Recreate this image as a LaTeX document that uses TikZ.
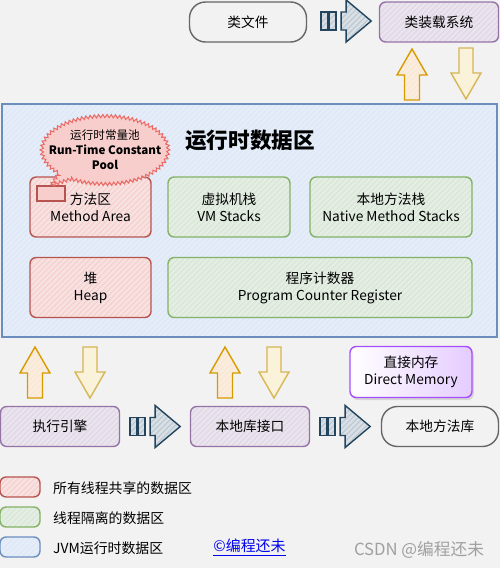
\documentclass[tikz,border=0pt]{standalone}
\usepackage{fontspec}
\setmainfont{Noto Sans CJK SC}
\usepackage{tikz}
\usetikzlibrary{shapes.callouts}
\usetikzlibrary{patterns.meta}
\usetikzlibrary{decorations.pathmorphing}
\usetikzlibrary{shadows}

\definecolor{bggray}{HTML}{F2F2F2}
\definecolor{grayline}{HTML}{666666}
\definecolor{purpleline}{HTML}{9673A6}
\definecolor{purplefill}{HTML}{E1D5E7}
\definecolor{redline}{HTML}{B85450}
\definecolor{redfill}{HTML}{F8CECC}
\definecolor{greenline}{HTML}{82B366}
\definecolor{greenfill}{HTML}{D5E8D4}
\definecolor{blueline}{HTML}{6C8EBF}
\definecolor{bluefill}{HTML}{DAE8FC}
\definecolor{orangeline}{HTML}{D79B00}
\definecolor{orangefill}{HTML}{FFE6CC}
\definecolor{yellowline}{HTML}{D6B656}
\definecolor{yellowfill}{HTML}{FFF2CC}
\definecolor{navyline}{HTML}{23445D}
\definecolor{navyfill}{HTML}{BAC8D3}
\definecolor{violetline}{HTML}{A64DFF}
\definecolor{violetfill}{HTML}{E5CCFF}
\definecolor{calloutline}{HTML}{EA6B66}
\definecolor{linkblue}{HTML}{0000EE}
\definecolor{markgray}{HTML}{A0A0A0}

\newcommand{\boxfont}{\fontsize{7.8}{9.6}\selectfont}

\begin{document}
\begin{tikzpicture}[x=0.02cm,y=-0.02cm]
		\tikzset{hatch/.style={preaction={fill=#1!45!bggray}, preaction={pattern={Lines[angle=45,distance=2.2pt,line width=0.6pt]},pattern color=#1}}};
		\tikzset{sketch/.style 2 args={draw=#1, line width=0.8pt, hatch=#2, rounded corners=3.5pt, align=center, font=\boxfont}};
		\tikzset{filebox/.style={draw=grayline, line width=0.8pt, rounded corners=0.32cm, minimum width=2.34cm, minimum height=0.8cm, font=\boxfont}};
		\tikzset{purplebox/.style={sketch={purpleline}{purplefill}, minimum width=2.38cm, minimum height=0.8cm}};
		\tikzset{sharedbox/.style={sketch={redline}{redfill}, minimum width=2.42cm, minimum height=1.2cm}};
		\tikzset{threadbox/.style={sketch={greenline}{greenfill}, minimum height=1.2cm}};
		\tikzset{legendbox/.style={sketch={#1line}{#1fill}, minimum width=0.8cm, minimum height=0.4cm}};
		\tikzset{legendtext/.style={anchor=west, font=\fontsize{7.9}{9}\selectfont}};
		\tikzset{pics/stripearrow/.style={code={
			\draw[navyline, line width=0.8pt, hatch=navyfill] (0,-9) rectangle (7,9);
			\draw[navyline, line width=0.8pt, hatch=navyfill] (8,-9) rectangle (15,9);
			\draw[navyline, line width=0.8pt, hatch=navyfill] (20,-9) -- (25,-9) -- (25,-21) -- (50,0) -- (25,21) -- (25,9) -- (20,9) -- cycle;
		}}};
		\tikzset{pics/liftup/.style={code={
			\draw[orangeline, line width=0.8pt, hatch=orangefill] (-7.5,0) -- (-7.5,-25) -- (-15,-25) -- (0,-51) -- (15,-25) -- (7.5,-25) -- (7.5,0) -- cycle;
		}}};
		\tikzset{pics/dropdown/.style={code={
			\draw[yellowline, line width=0.8pt, hatch=yellowfill] (-7,0) -- (-7,25) -- (-15,25) -- (0,51) -- (15,25) -- (7,25) -- (7,0) -- cycle;
		}}};

		% background and page size
		\fill[bggray] (0,0) rectangle (500,568);
		\useasboundingbox (0,0) rectangle (500,568);

		% class loading
		\node[filebox] (klass) at (248,22) {类文件};
		\node[purplebox] (loader) at (439,22) {类装载系统};
		\path (klass.east) ++(14,-1) pic {stripearrow};
		\pic at (412,100) {liftup};
		\pic at (466,48) {dropdown};

		% runtime data area
		\node[draw=blueline, line width=0.8pt, hatch=bluefill, minimum width=9.9cm, minimum height=4.66cm] (runtime) at (249.5,220.5) {};
		\node[font=\fontsize{12.3}{14}\selectfont\bfseries] (title) at (250,140) {运行时数据区};
		\node[sharedbox] (method) at (90.5,207) {方法区\\Method Area};
		\node[threadbox, minimum width=2.44cm] (vmstack) at (229,207) {虚拟机栈\\VM Stacks};
		\node[threadbox, minimum width=3.24cm] (nstack) at (391,207) {本地方法栈\\Native Method Stacks};
		\node[sharedbox] (heap) at (90.5,287.5) {堆\\Heap};
		\node[threadbox, minimum width=6.08cm] (pcr) at (320,287.5) {程序计数器\\Program Counter Register};
		\node[draw=redline, line width=0.8pt, fill=redfill, minimum width=0.56cm, minimum height=0.3cm, inner sep=0pt] (poolmark) at (51,193.5) {};
		\node[ellipse callout, draw=calloutline, line width=0.6pt, fill=redfill, minimum width=2.48cm, minimum height=1.36cm, inner xsep=-6.5pt, inner ysep=1pt,
			callout absolute pointer={(poolmark.north)}, decorate, decoration={zigzag,segment length=2.4pt,amplitude=0.9pt},
			align=center, font=\fontsize{6.6}{8.5}\selectfont] (pool) at (105,150) {运行时常量池\\\textbf{Run-Time Constant}\\\textbf{Pool}};

		% execution side
		\pic at (35,398) {liftup};
		\pic at (90,347) {dropdown};
		\pic at (225,398) {liftup};
		\pic at (274,347) {dropdown};
		\node[draw=violetline, line width=0.8pt, left color=white, right color=violetfill, rounded corners=3.5pt, minimum width=2.44cm, minimum height=1.02cm,
			align=center, font=\boxfont, drop shadow={opacity=0.25, shadow xshift=1pt, shadow yshift=-1.5pt}] (direct) at (411,372) {直接内存\\Direct Memory};
		\node[purplebox] (engine) at (60,426.5) {执行引擎};
		\node[purplebox] (nif) at (250,426.5) {本地库接口};
		\node[filebox] (nlib) at (440,426.5) {本地方法库};
		\path (engine.east) ++(10,0) pic {stripearrow};
		\path (nif.east) ++(10,0) pic {stripearrow};

		% legend
		\node[legendbox=red] (keyshared) at (20,487) {};
		\node[legendbox=green] (keythread) at (20,517) {};
		\node[legendbox=blue] (keyjvm) at (20,547) {};
		\node[legendtext] (txtshared) at (47,488) {所有线程共享的数据区};
		\node[legendtext] (txtthread) at (47,518) {线程隔离的数据区};
		\node[legendtext] (txtjvm) at (47,548) {JVM运行时数据区};
		\node[text=linkblue, font=\fontsize{8.5}{10}\selectfont] (link) at (249.5,548) {\underline{©编程还未}};
		\node[text=markgray, font=\fontsize{9.5}{11}\selectfont] (mark) at (419,550) {CSDN @编程还未};
	\end{tikzpicture}
\end{document}
